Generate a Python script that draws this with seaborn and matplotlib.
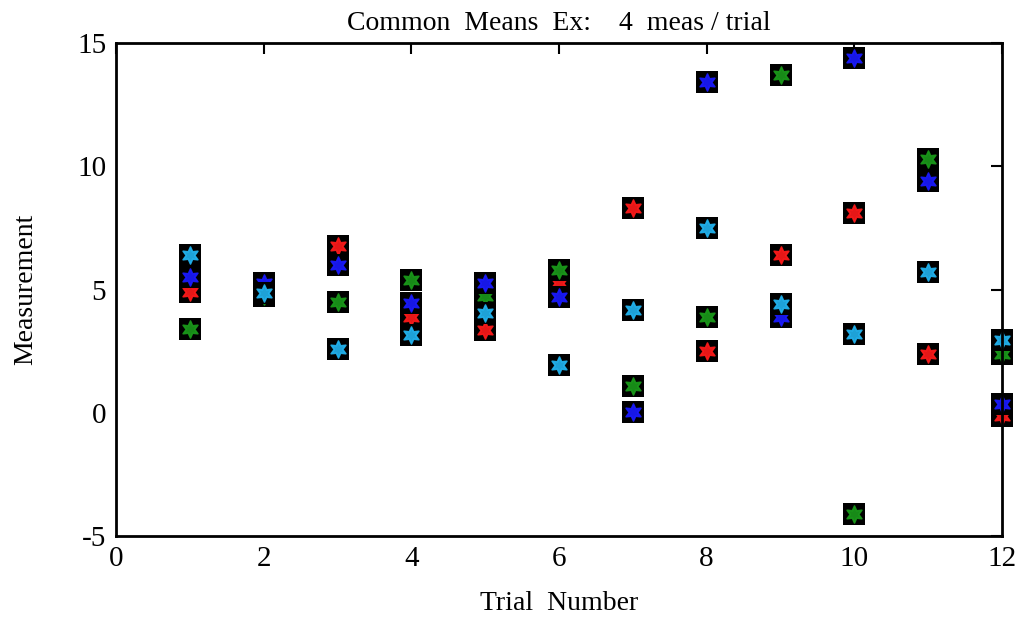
import matplotlib
matplotlib.use("Agg")
import matplotlib.pyplot as plt
import seaborn as sns
import pandas as pd

trials = [1, 2, 3, 4, 5, 6, 7, 8, 9, 10, 11, 12]
red_vals = [4.9, 4.9, 6.75, 3.9, 3.35, 5.25, 8.3, 2.5, 6.4, 8.1, 2.4, -0.15]
green_vals = [3.4, 4.75, 4.5, 5.4, 4.75, 5.8, 1.1, 3.9, 13.7, -4.1, 10.3, 2.4]
blue_vals = [5.5, 5.25, 6.0, 4.45, 5.25, 4.7, 0.05, 13.4, 3.9, 14.4, 9.4, 0.35]
cyan_vals = [6.4, 4.85, 2.6, 3.15, 4.05, 1.95, 4.15, 7.5, 4.4, 3.2, 5.7, 2.95]

series = [("red", red_vals, "#ff1a1a"),
          ("green", green_vals, "#1a9a1a"),
          ("blue", blue_vals, "#1a1aff"),
          ("cyan", cyan_vals, "#22b4f0")]

sns.set_theme(style="white")
plt.rcParams['font.family'] = ['Liberation Serif', 'DejaVu Serif']
plt.rcParams['axes.unicode_minus'] = False
plt.rcParams['text.color'] = 'black'
plt.rcParams['axes.labelcolor'] = 'black'

fig = plt.figure(figsize=(10.24, 6.27), dpi=100)
ax = fig.add_axes([116/1024, 1-536/627, (1002-116)/1024, (536-43)/627])

for i, (name, vals, col) in enumerate(series):
    df = pd.DataFrame({"trial": trials, "value": vals})
    sns.scatterplot(data=df, x="trial", y="value", ax=ax, marker="s", s=230,
                    color="black", edgecolor="black", linewidth=0, clip_on=False,
                    zorder=3 + 2 * i)
    sns.scatterplot(data=df, x="trial", y="value", ax=ax, marker=(6, 1, 0), s=150,
                    color=col, edgecolor=col, linewidth=1.2, alpha=0.9, clip_on=False,
                    zorder=4 + 2 * i)

ax.set_xlim(0, 12)
ax.set_ylim(-5, 15)
ax.set_xticks([0, 2, 4, 6, 8, 10, 12])
ax.set_yticks([-5, 0, 5, 10, 15])
ax.tick_params(direction="in", length=8, width=1.5, top=True, right=True,
               labelsize=21, colors="black", pad=7)
for sp in ax.spines.values():
    sp.set_linewidth(2)
    sp.set_color("black")
    sp.set_zorder(20)
ax.set_xlabel("Trial  Number", fontsize=20, labelpad=14, color="black")
ax.set_ylabel("Measurement", fontsize=20, labelpad=28, color="black")
ax.set_title("Common  Means  Ex:    4  meas / trial", fontsize=20, pad=9, color="black")

fig.savefig("out.png", dpi=100)
